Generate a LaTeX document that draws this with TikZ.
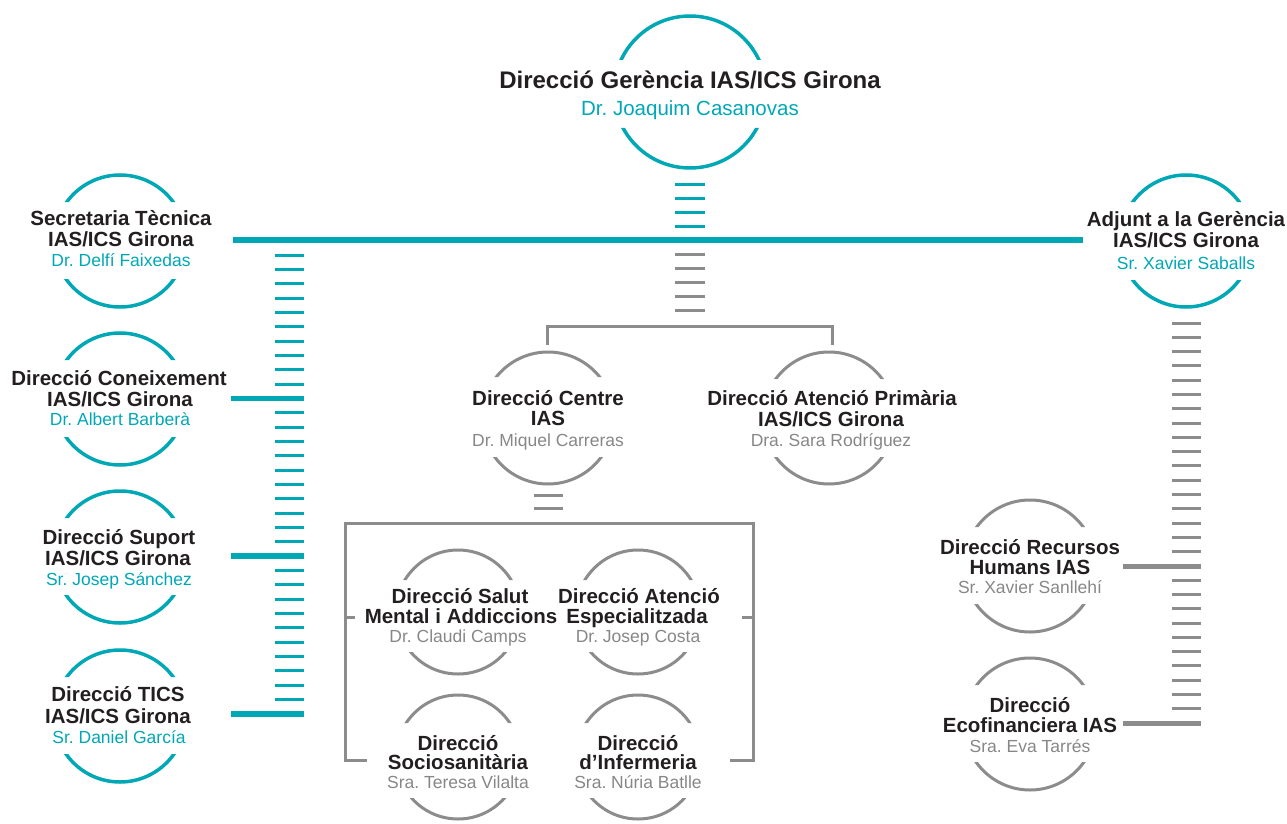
\documentclass[tikz,border=0pt]{standalone}
\usepackage{fontspec}
\setmainfont{Liberation Sans}
\frenchspacing
\definecolor{tealc}{RGB}{0,168,181}
\definecolor{grayc}{RGB}{140,140,140}
\definecolor{grayt}{RGB}{135,135,135}
\definecolor{inkc}{RGB}{35,31,32}
\tikzset{
  ttl/.style={anchor=base, inner sep=0pt, text=inkc, font=\fontsize{20.5}{22}\selectfont\bfseries\frenchspacing},
  ttlbig/.style={ttl, font=\fontsize{24}{26}\selectfont\bfseries\frenchspacing},
  nmt/.style={anchor=base, inner sep=0pt, text=tealc, font=\fontsize{17.5}{20}\selectfont\frenchspacing},
  nmg/.style={nmt, text=grayt},
  nmbig/.style={nmt, font=\fontsize{20.5}{22}\selectfont\frenchspacing},
  tring/.style={draw=tealc, line width=3.5},
  gring/.style={draw=grayc, line width=3},
  tline/.style={draw=tealc},
  gline/.style={draw=grayc},
  ladder/.style={line width=29, dash pattern=on 3pt off #1},
  tbar/.style={draw=tealc, line width=5.5},
  gbar/.style={draw=grayc, line width=5},
  gconn/.style={draw=grayc, line width=3},
}
% ring with a gap for the text: cx, cy, r, gap above, gap below, style
\newcommand\ringarc[6]{%
  \begin{scope}
    \clip (#1-#3-5,#2-#3-5) rectangle (#1+#3+5,#2-#4)
          (#1-#3-5,#2+#5) rectangle (#1+#3+5,#2+#3+5);
    \draw[#6] (#1,#2) circle[radius=#3];
  \end{scope}}
\begin{document}
\begin{tikzpicture}[x=1pt,y=-1pt]
\useasboundingbox (0,0) rectangle (1287,824);

% ---------- units ----------
% top
\coordinate (top) at (690,92);
\ringarc{690}{92}{76}{32}{36}{tring}
\node[ttlbig] (top-t) at (690,88.6) {Direcció Gerència IAS/ICS Girona};
\node[nmbig]  (top-n) at (690,115.3) {Dr. Joaquim Casanovas};

% left column
\coordinate (sec) at (120,241);
\ringarc{120}{241}{66}{39}{38}{tring}
\node[ttl] (sec-1) at (121,225.3) {Secretaria Tècnica};
\node[ttl] (sec-2) at (121,246.8) {IAS/ICS Girona};
\node[nmt] (sec-3) at (121,266.8) {Dr. Delfí Faixedas};

\coordinate (con) at (120,399);
\ringarc{120}{399}{66}{39}{38}{tring}
\node[ttl] (con-1) at (119,385.8) {Direcció Coneixement};
\node[ttl] (con-2) at (120,406.8) {IAS/ICS Girona};
\node[nmt] (con-3) at (120,425.8) {Dr. Albert Barberà};

\coordinate (sup) at (120,557);
\ringarc{120}{557}{66}{39}{38}{tring}
\node[ttl] (sup-1) at (119,544.8) {Direcció Suport};
\node[ttl] (sup-2) at (118,565.8) {IAS/ICS Girona};
\node[nmt] (sup-3) at (119,585.3) {Sr. Josep Sánchez};

\coordinate (tics) at (120,716);
\ringarc{120}{716}{66}{39}{38}{tring}
\node[ttl] (tics-1) at (118,701.3) {Direcció TICS};
\node[ttl] (tics-2) at (118,723.3) {IAS/ICS Girona};
\node[nmt] (tics-3) at (119,743.3) {Sr. Daniel García};

% right
\coordinate (adj) at (1186,241);
\ringarc{1186}{241}{66}{39}{39}{tring}
\node[ttl] (adj-1) at (1186,226.3) {Adjunt a la Gerència};
\node[ttl] (adj-2) at (1186,247.3) {IAS/ICS Girona};
\node[nmt] (adj-3) at (1186,269.3) {Sr. Xavier Saballs};

\coordinate (hr) at (1030,566);
\ringarc{1030}{566}{66}{39}{38}{gring}
\node[ttl] (hr-1) at (1030,554.3) {Direcció Recursos};
\node[ttl] (hr-2) at (1030,574.3) {Humans IAS};
\node[nmg] (hr-3) at (1030,593.3) {Sr. Xavier Sanllehí};

\coordinate (eco) at (1030,724);
\ringarc{1030}{724}{66}{39}{38}{gring}
\node[ttl] (eco-1) at (1030,712.3) {Direcció};
\node[ttl] (eco-2) at (1030,732.3) {Ecofinanciera IAS};
\node[nmg] (eco-3) at (1030,752.3) {Sra. Eva Tarrés};

% middle
\coordinate (cen) at (548,418);
\ringarc{548}{418}{66}{41}{39}{gring}
\node[ttl] (cen-1) at (548,405.3) {Direcció Centre};
\node[ttl] (cen-2) at (548,425.3) {IAS};
\node[nmg] (cen-3) at (548,446.3) {Dr. Miquel Carreras};

\coordinate (pri) at (829,418);
\ringarc{829}{418}{66}{39}{39}{gring}
\node[ttl] (pri-1) at (832,405.3) {Direcció Atenció Primària};
\node[ttl] (pri-2) at (831,426.3) {IAS/ICS Girona};
\node[nmg] (pri-3) at (831,446.3) {Dra. Sara Rodríguez};

% inner box units
\coordinate (sal) at (458,612);
\ringarc{458}{612}{62}{32}{40}{gring}
\node[ttl] (sal-1) at (460,603.3) {Direcció Salut};
\node[ttl] (sal-2) at (461,623.3) {Mental i Addiccions};
\node[nmg] (sal-3) at (458,642.3) {Dr. Claudi Camps};

\coordinate (esp) at (638,612);
\ringarc{638}{612}{62}{32}{40}{gring}
\node[ttl] (esp-1) at (639,603.3) {Direcció Atenció};
\node[ttl] (esp-2) at (637,623.3) {Especialitzada};
\node[nmg] (esp-3) at (638,642.3) {Dr. Josep Costa};

\coordinate (soc) at (458,757);
\ringarc{458}{757}{62}{34}{41}{gring}
\node[ttl] (soc-1) at (458,750.3) {Direcció};
\node[ttl] (soc-2) at (458,769.3) {Sociosanitària};
\node[nmg] (soc-3) at (458,788.3) {Sra. Teresa Vilalta};

\coordinate (inf) at (638,757);
\ringarc{638}{757}{62}{34}{41}{gring}
\node[ttl] (inf-1) at (638,750.3) {Direcció};
\node[ttl] (inf-2) at (638,769.3) {d’Infermeria};
\node[nmg] (inf-3) at (638,788.3) {Sra. Núria Batlle};

% ---------- connectors ----------
% top ladder and main bar
\coordinate (topL-a) at (690,182.5);
\coordinate (topL-b) at (690,227.5);
\draw[tline, line width=30, dash pattern=on 3pt off 11pt] (topL-a) -- (topL-b);
\coordinate (bar-l) at (233,240);
\coordinate (bar-r) at (1083,240);
\draw[tline, line width=6] (bar-l) -- (bar-r);

% left ladder
\coordinate (lL-a) at (289.5,253.5);
\coordinate (lL-b) at (289.5,715.5);
\draw[tline, ladder=11.34pt] (lL-a) -- (lL-b);
\coordinate (conb-l) at (231,398.4); \coordinate (conb-r) at (304,398.4);
\coordinate (supb-l) at (231,556.1); \coordinate (supb-r) at (304,556.1);
\coordinate (ticb-l) at (231,713.9); \coordinate (ticb-r) at (304,713.9);
\draw[tbar] (conb-l) -- (conb-r);
\draw[tbar] (supb-l) -- (supb-r);
\draw[tbar] (ticb-l) -- (ticb-r);

% centre ladder and bracket
\coordinate (cL-a) at (690,252.5);
\coordinate (cL-b) at (690,312.3);
\draw[gline, line width=30, dash pattern=on 3pt off 11.2pt] (cL-a) -- (cL-b);
\coordinate (br-l) at (547,345);
\coordinate (br-r) at (832,345);
\draw[gconn] (br-l) -- (547,326) -- (832,326) -- (br-r);

% under Centre IAS
\coordinate (cd-a) at (548.5,493.5);
\coordinate (cd-b) at (548.5,509.5);
\draw[gline, line width=29, dash pattern=on 3pt off 10pt] (cd-a) -- (cd-b);

% inner box
\coordinate (box-bl) at (367,760);
\coordinate (box-br) at (730,760);
\draw[gconn] (box-bl) -- (345,760) -- (345,523) -- (753,523) -- (753,760) -- (box-br);
\coordinate (tk-l) at (355,617);
\coordinate (tk-r) at (742,617);
\draw[gconn] (345,617) -- (tk-l);
\draw[gconn] (753,617) -- (tk-r);

% right ladder
\coordinate (rL-a) at (1186.5,321.5);
\coordinate (rL-b) at (1186.5,724.5);
\draw[gline, ladder=11.29pt] (rL-a) -- (rL-b);
\coordinate (hrb-l) at (1123,566); \coordinate (hrb-r) at (1201,566);
\coordinate (ecb-l) at (1123,723); \coordinate (ecb-r) at (1201,723);
\draw[gbar] (hrb-l) -- (hrb-r);
\draw[gbar] (ecb-l) -- (ecb-r);
\end{tikzpicture}
\end{document}
